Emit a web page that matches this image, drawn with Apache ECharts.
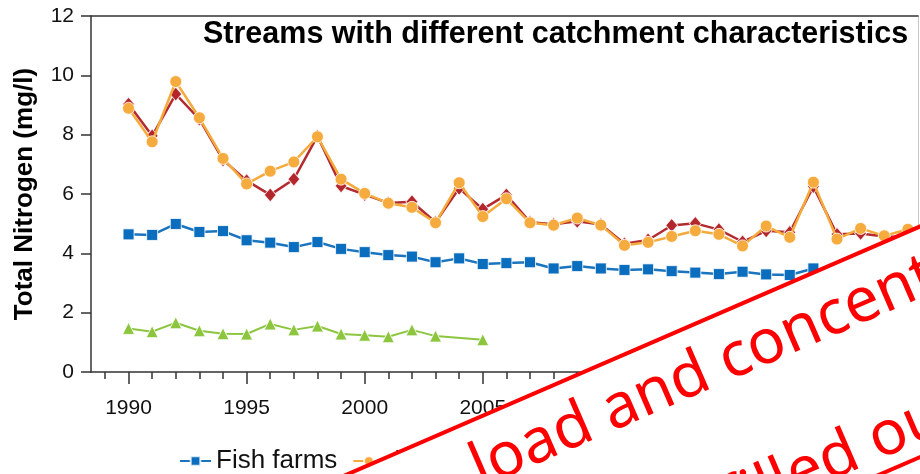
<!DOCTYPE html>
<html>
<head>
<meta charset="utf-8">
<script src="https://cdn.jsdelivr.net/npm/echarts@6.0.0/dist/echarts.min.js"></script>
<style>
  html, body { margin: 0; padding: 0; background: #fff; }
  #chart { width: 920px; height: 474px; }
</style>
</head>
<body>
<div id="chart"></div>
<script>
// Annual mean total nitrogen (mg/l) in streams, 1990–2023
const years = [1990, 1991, 1992, 1993, 1994, 1995, 1996, 1997, 1998, 1999,
               2000, 2001, 2002, 2003, 2004, 2005, 2006, 2007, 2008, 2009,
               2010, 2011, 2012, 2013, 2014, 2015, 2016, 2017, 2018, 2019,
               2020, 2021, 2022, 2023];

const fishFarms = [4.64, 4.62, 4.99, 4.72, 4.75, 4.44, 4.36, 4.21, 4.38, 4.15,
                   4.04, 3.94, 3.89, 3.70, 3.83, 3.64, 3.67, 3.70, 3.49, 3.57,
                   3.49, 3.44, 3.46, 3.40, 3.35, 3.30, 3.38, 3.29, 3.27, 3.49];

const agriculture = [8.89, 7.76, 9.79, 8.57, 7.20, 6.34, 6.77, 7.08, 7.93, 6.50,
                     6.02, 5.69, 5.55, 5.03, 6.38, 5.24, 5.84, 5.03, 4.95, 5.19,
                     4.95, 4.27, 4.37, 4.57, 4.76, 4.64, 4.25, 4.92, 4.54, 6.40,
                     4.48, 4.84, 4.59, 4.81];

const mixedLand = [9.03, 7.96, 9.37, 8.52, 7.15, 6.45, 5.97, 6.50, 7.95, 6.27,
                   5.98, 5.70, 5.74, 5.05, 6.19, 5.49, 5.97, 5.05, 4.98, 5.08,
                   4.97, 4.32, 4.45, 4.94, 5.01, 4.80, 4.39, 4.76, 4.71, 6.25,
                   4.64, 4.67, 4.57, 4.55];

const background = [1.47, 1.36, 1.66, 1.39, 1.29, 1.28, 1.62, 1.42, 1.55, 1.28,
                    1.24, 1.19, 1.42, 1.21, null, 1.09];

const xLabelYears = [1990, 1995, 2000, 2005, 2010, 2015, 2020];
const xTickYears = [];
for (let y = 1989; y <= 2023; y++) xTickYears.push(y);

const seriesNames = ['Fish farms', 'Agriculture', 'Mixed land use', 'Background'];

function pairs(values) {
  return values.map((v, i) => [years[i], v]);
}

const FONT = '"Liberation Sans", Arial, sans-serif';
const AXIS_COLOR = '#333';
const X_MIN = 1988.41;
const X_MAX = 2023.43;

// Notice band geometry (local, rotated frame)
const BAND_H = 211.6;
const BAND_LAYER = { zlevel: 5, z: 100 };
const bandText = { fontSize: 62, fontFamily: '"Noto Sans", sans-serif', fill: '#ff0000', align: 'left', verticalAlign: 'middle' };

const chart = echarts.init(document.getElementById('chart'), null, { renderer: 'canvas' });

const option = {
  animation: false,
  backgroundColor: '#fff',
  textStyle: { fontFamily: FONT },
  title: {
    text: 'Streams with different catchment characteristics',
    left: 203,
    top: 19,
    padding: 0,
    textStyle: { fontFamily: FONT, fontSize: 30.5, fontWeight: 'bold', color: '#000' }
  },
  grid: {
    left: 91, right: 2, top: 16, bottom: 102,
    containLabel: false,
    outerBoundsMode: 'none'
  },
  legend: {
    left: 179,
    top: 448,
    itemWidth: 31,
    itemHeight: 12,
    itemGap: 15,
    padding: 0,
    textStyle: { fontFamily: FONT, fontSize: 26, color: '#111' },
    data: seriesNames
  },
  xAxis: [
    {
      type: 'value', min: X_MIN, max: X_MAX, position: 'bottom',
      axisLine: { show: true, onZero: false, lineStyle: { color: AXIS_COLOR, width: 1.5 } },
      axisTick: { show: true, customValues: xTickYears, length: 7, lineStyle: { color: AXIS_COLOR, width: 1.5 } },
      axisLabel: {
        customValues: xLabelYears, margin: 26, fontSize: 21, color: '#111', fontFamily: FONT,
        formatter: v => String(Math.round(v))
      },
      splitLine: { show: false }
    },
    {
      type: 'value', min: X_MIN, max: X_MAX, position: 'bottom',
      axisLine: { show: false, onZero: false },
      axisTick: { show: true, customValues: xLabelYears, length: 12, lineStyle: { color: AXIS_COLOR, width: 1.5 } },
      axisLabel: { show: false },
      splitLine: { show: false }
    },
    {
      type: 'value', min: X_MIN, max: X_MAX, position: 'top',
      axisLine: { show: true, onZero: false, lineStyle: { color: AXIS_COLOR, width: 1.5 } },
      axisTick: { show: false },
      axisLabel: { show: false },
      splitLine: { show: false }
    }
  ],
  yAxis: [
    {
      type: 'value', min: 0, max: 12, interval: 2, position: 'left',
      name: 'Total Nitrogen (mg/l)',
      nameLocation: 'middle',
      nameGap: 53,
      nameRotate: 90,
      nameTextStyle: { fontFamily: FONT, fontSize: 26, fontWeight: 'bold', color: '#000' },
      axisLine: { show: true, onZero: false, lineStyle: { color: AXIS_COLOR, width: 1.5 } },
      axisTick: { show: true, length: 10, lineStyle: { color: AXIS_COLOR, width: 1.5 } },
      axisLabel: { margin: 17, fontSize: 21, color: '#111', fontFamily: FONT },
      splitLine: { show: false }
    },
    {
      type: 'value', min: 0, max: 12, position: 'right',
      axisLine: { show: true, onZero: false, lineStyle: { color: '#c8c8c8', width: 1 } },
      axisTick: { show: false },
      axisLabel: { show: false },
      splitLine: { show: false }
    }
  ],
  series: [
    {
      name: seriesNames[0], type: 'line', data: pairs(fishFarms), z: 3,
      symbol: 'rect', symbolSize: 11,
      lineStyle: { color: '#1a74be', width: 2.5 },
      itemStyle: { color: '#0a6dbd', borderColor: 'rgba(255,255,255,0.8)', borderWidth: 1 }
    },
    {
      name: seriesNames[1], type: 'line', data: pairs(agriculture), z: 5,
      symbol: 'circle', symbolSize: 12,
      lineStyle: { color: '#f5aa3c', width: 2.5 },
      itemStyle: { color: '#f6ab3e', borderColor: 'rgba(255,255,255,0.8)', borderWidth: 1 }
    },
    {
      name: seriesNames[2], type: 'line', data: pairs(mixedLand), z: 4,
      symbol: 'diamond', symbolSize: [12, 14],
      lineStyle: { color: '#b32a30', width: 2.5 },
      itemStyle: { color: '#b3262c', borderColor: 'rgba(255,255,255,0.8)', borderWidth: 1 }
    },
    {
      name: seriesNames[3], type: 'line', data: pairs(background), z: 3,
      connectNulls: true,
      symbol: 'triangle', symbolSize: 12,
      lineStyle: { color: '#8cc63f', width: 2 },
      itemStyle: { color: '#8cc63f', borderColor: 'rgba(255,255,255,0.8)', borderWidth: 1 }
    }
  ],
  // Diagonal notice band laid over the lower right corner
  graphic: {
    zlevel: 5,
    z: 100,
    elements: [
      {
        type: 'group',
        x: 600, y: 365,
        rotation: 23.4 * Math.PI / 180,
        ...BAND_LAYER,
        children: [
          { type: 'rect', ...BAND_LAYER, shape: { x: -900, y: 0, width: 1800, height: BAND_H }, style: { fill: '#fff' } },
          { type: 'line', ...BAND_LAYER, shape: { x1: -900, y1: 0, x2: 900, y2: 0 }, style: { stroke: '#ff0000', lineWidth: 4 } },
          { type: 'line', ...BAND_LAYER, shape: { x1: -900, y1: BAND_H, x2: 900, y2: BAND_H }, style: { stroke: '#ff0000', lineWidth: 4 } },
          { type: 'text', ...BAND_LAYER, x: -158, y: 48, style: { text: 'load and concentration', ...bandText } },
          { type: 'text', ...BAND_LAYER, x: 59, y: 180, style: { text: 'filled out', ...bandText } }
        ]
      }
    ]
  }
};

chart.setOption(option);
</script>
</body>
</html>
